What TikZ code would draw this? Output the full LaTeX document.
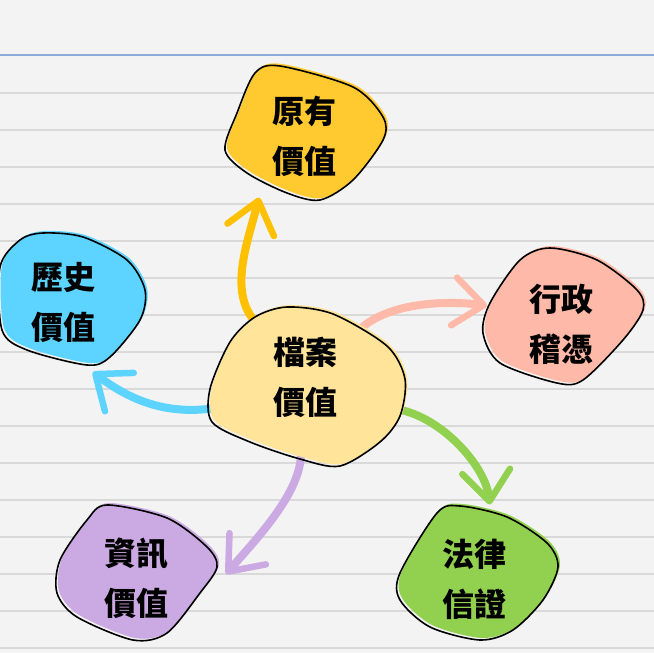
\documentclass[tikz,border=0pt]{standalone}
\usepackage{fontspec}
\newfontfamily\cjk{Noto Sans CJK TC}
\usetikzlibrary{arrows.meta}
\pgfdeclarelayer{paper}\pgfdeclarelayer{links}\pgfdeclarelayer{blobs}
\pgfsetlayers{paper,links,blobs,main}

\definecolor{papergray}{HTML}{F3F3F3}
\definecolor{rulegray}{HTML}{D9D9D9}
\definecolor{topblue}{HTML}{8EA9DB}
\definecolor{goldfill}{HTML}{FFCA30}
\definecolor{goldline}{HTML}{FFC000}
\definecolor{creamfill}{HTML}{FFE49A}
\definecolor{skyfill}{HTML}{5CD4FF}
\definecolor{peachfill}{HTML}{FFB9A8}
\definecolor{leaffill}{HTML}{92D050}
\definecolor{lilacfill}{HTML}{CBA9E3}

\tikzset{
  val/.style={circle, minimum size=152pt, inner sep=0pt, align=center,
    font=\cjk\bfseries\fontsize{32}{50}\selectfont},
  link/.style={line width=8pt, line cap=round,
    -{Straight Barb[round, length=30pt, width=48pt, line width=6.5pt]}},
  rule/.style={line width=2pt, draw=rulegray}
}

\newcommand\blob[3]{%
  \fill[#2, shift={(#1.center)}, xshift=2pt, yshift=2pt] plot[smooth cycle] coordinates {#3};
  \draw[line width=1.6pt, shift={(#1.center)}] plot[smooth cycle] coordinates {#3};}

\begin{document}
\begin{tikzpicture}[x=1pt, y=-1pt]
\useasboundingbox (0,0) rectangle (654,653);
\begin{pgfonlayer}{paper}
\fill[papergray] (0,0) rectangle (654,653);
\draw[line width=1.2pt, draw=topblue] (0,55) -- (654,55);
\foreach \k in {0,...,15} \draw[rule] (0,{93+37*\k}) -- (654,{93+37*\k});
\end{pgfonlayer}

\node[val] (ctr) at (305,377) {檔案\\價值};
\node[val] (orig) at (304,136) {原有\\價值};
\node[val] (hist) at (63,302) {歷史\\價值};
\node[val] (adm) at (561,324) {行政\\稽憑};
\node[val] (law) at (474,579) {法律\\信證};
\node[val] (info) at (136,578) {資訊\\價值};

\begin{pgfonlayer}{links}
\draw[link, goldline] (ctr.132) .. controls +(-25,-30) and +(-12,45) .. (orig.234);
\draw[link, peachfill] (ctr.41) .. controls +(30,-25) and +(-40,-5) .. (adm.166);
\draw[link, skyfill] (ctr.201) .. controls +(-60,15) and +(40,30) .. (hist.293);
\draw[link, leaffill] (ctr.335) .. controls +(50,-10) and +(-5,-45) .. (law.78);
\draw[link, lilacfill] (ctr.267) .. controls +(0,40) and +(30,-35) .. ([xshift=14pt]info.3);
\end{pgfonlayer}

\begin{pgfonlayer}{blobs}
\blob{orig}{goldfill}{(-49,-63) (-24,-70) (49,-49) (79,-19) (79,4) (49,44) (16,64) (-17,57) (-57,37) (-79,14) (-67,-23)}
\blob{ctr}{creamfill}{(-50,-60) (-18,-70) (28,-63) (82,-31) (100,2) (95,39) (75,65) (35,89) (-5,82) (-55,65) (-93,45) (-95,12) (-75,-35)}
\blob{hist}{skyfill}{(-20,-69) (-43,-62) (-63,-35) (-61,28) (-36,48) (24,63) (47,55) (77,18) (82,-12) (64,-42) (20,-65)}
\blob{adm}{peachfill}{(-11,-76) (-41,-64) (-71,-21) (-78,9) (-61,39) (-4,59) (22,56) (62,16) (82,-14) (76,-34) (36,-64)}
\blob{law}{leaffill}{(-14,-73) (-37,-66) (-74,-6) (-74,21) (-44,48) (6,61) (39,51) (69,21) (84,-12) (73,-36) (33,-62)}
\blob{info}{lilacfill}{(-29,-73) (-49,-58) (-76,-18) (-79,15) (-59,39) (-3,62) (31,55) (64,15) (81,-11) (71,-31) (31,-60)}
\end{pgfonlayer}
\end{tikzpicture}
\end{document}
